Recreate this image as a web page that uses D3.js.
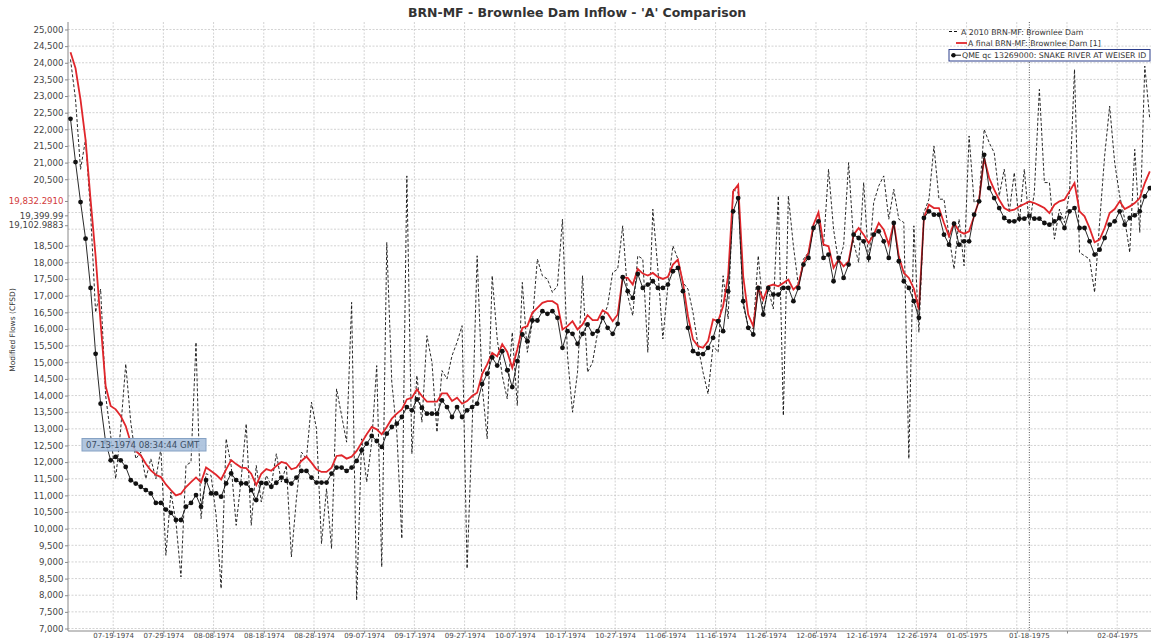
<!DOCTYPE html>
<html><head><meta charset="utf-8">
<script src="https://cdn.jsdelivr.net/npm/d3@7"></script>
<style>
html,body{margin:0;padding:0;background:#fff;overflow:hidden}
svg{display:block;font-family:"DejaVu Sans",sans-serif}
</style></head><body>
<svg id="chart" width="1151" height="640"></svg>
<script>
const title = "BRN-MF - Brownlee Dam Inflow - 'A' Comparison";
const yAxisTitle = "Modified Flows (CFSD)";
const seriesNames = ["A 2010 BRN-MF: Brownlee Dam", "A final BRN-MF: Brownlee Dam [1]", "QME qc 13269000: SNAKE RIVER AT WEISER ID"];
const firstDay = "1974-07-10T12:00:00Z";   // daily values from this day on

const a2010 = [
24100,22900,20800,21700,19500,16500,17200,14000,12800,11500,13000,14950,
13200,12100,12300,11500,12100,11500,12400,9200,11100,10200,8550,11900,
12000,15600,10300,11650,11600,10400,8200,12700,11900,10100,11500,13150,
10100,11900,10800,11600,11300,12250,11400,11900,9150,10900,12300,12100,
13800,13000,9550,11200,9400,14200,13400,12600,16800,7850,12700,11400,
12600,14900,8850,18600,14400,12900,9700,20600,12250,14600,13200,15800,
15000,12900,14750,14500,15200,15600,16100,8800,13000,18200,14300,12700,
17600,15700,14600,13900,15900,13700,17400,15300,16200,18100,17600,17500,
17100,17300,19300,15200,13500,14700,17600,14700,15000,15900,16300,16700,
17700,17800,19100,17000,16400,18200,18100,15300,19600,17800,15700,17300,
18500,18100,17400,17200,16500,15500,14700,14050,15500,15300,17600,16300,
20200,20100,16700,16100,16000,18200,16500,17200,16600,20000,13400,20000,
18500,17300,18100,18300,19000,19300,18500,20800,19000,18000,18500,21000,
18600,18000,20400,18000,19800,20300,20600,19300,20200,19300,19200,12100,
19100,15900,19500,19900,21500,19900,19900,18800,17800,19300,17900,21800,
19800,19900,22000,21600,21300,20000,20800,19500,20700,19200,20800,19102.9883,
20100,23200,20400,20400,18700,19600,19200,20100,23800,18300,18200,18100,
17100,19200,21200,22700,21000,20000,19300,18300,21400,18900,23900,22300];

const aFinal = [
24315,23835,22885,21685,19885,18185,16185,14285,13685,13585,13385,13085,
12585,12335,12200,11950,11750,11620,11550,11330,11160,11000,11050,11250,
11400,11540,11390,11840,11730,11620,11480,11780,12060,11940,11835,11820,
11650,11310,11650,11790,11740,11885,12005,11965,11785,11835,12035,12165,
11985,11785,11705,11705,11835,12185,12205,12105,12165,12335,12585,12835,
13055,12985,12835,13055,13305,13455,13585,13885,13935,14185,13985,13815,
13815,13815,14065,14065,13835,13935,13755,13835,13985,14085,14645,14935,
15285,15175,15545,15310,14835,15385,16035,16085,16485,16635,16785,16835,
16835,16735,15985,16085,16235,15985,16135,16415,16265,16265,16565,16465,
16235,16435,17555,17535,17335,17805,17665,17605,17685,17565,17505,17565,
17935,18085,17385,16385,15685,15485,15435,15635,16285,16235,16685,17585,
20135,20335,17585,16435,16085,17235,16885,17285,17335,17285,17385,17485,
17185,17335,17985,18285,19135,19505,18535,18485,17835,18085,17885,18035,
18835,19035,18835,18585,18835,19185,18985,18535,19185,18185,17685,17535,
17210,16585,19335,19735,19635,19635,19185,18785,19185,18935,18865,18935,
19385,19885,21135,20535,20185,19885,19635,19555,19585,19685,19755,19832.291,
19785,19715,19635,19485,19735,19835,19885,20135,20385,19535,19385,19035,
18605,18685,19035,19485,19605,19835,19605,19685,19785,19935,20385,20735];

const qme = [
22315,21015,19815,18715,17235,15255,13755,12600,12055,12155,12055,11855,
11455,11355,11260,11160,11060,10775,10775,10575,10475,10260,10260,10660,
10775,11010,10660,11460,11060,11060,10960,11360,11660,11460,11360,11360,
11160,10860,11375,11360,11260,11380,11535,11435,11355,11535,11735,11735,
11535,11385,11385,11385,11655,11835,11835,11735,11835,12035,12355,12555,
12785,12635,12455,12855,13055,13155,13355,13655,13555,13885,13635,13455,
13455,13455,13855,13655,13355,13655,13355,13555,13655,13755,14345,14655,
15145,14900,15335,14760,14255,15035,15835,15635,16255,16255,16535,16455,
16535,16335,15435,15935,15855,15555,15855,16135,15855,15935,16335,16035,
15855,16155,17555,17135,16935,17655,17235,17335,17435,17235,17235,17335,
17735,17835,17135,16035,15335,15255,15245,15435,15735,16235,15935,17135,
19535,19935,16835,16035,15835,17235,16435,17235,17035,17035,17235,17235,
16835,17235,17935,18135,19035,19235,18135,18235,17435,18135,17535,17935,
18835,18735,18635,18135,18835,18935,18635,18135,19185,18035,17435,17235,
16835,16335,19335,19535,19435,19435,18835,18535,19165,18535,18635,18635,
19435,19835,21235,20235,19935,19635,19335,19235,19235,19315,19315,19399.99,
19315,19315,19185,19135,19235,19335,19035,19535,19635,19035,19035,18635,
18235,18385,18735,19135,19235,19535,19135,19335,19415,19535,19985,20235];

const xTickDates = ["07-19-1974","07-29-1974","08-08-1974","08-18-1974","08-28-1974","09-07-1974",
"09-17-1974","09-27-1974","10-07-1974","10-17-1974","10-27-1974","11-06-1974","11-16-1974",
"11-26-1974","12-06-1974","12-16-1974","12-26-1974","01-05-1975","01-15-1975","01-25-1975","02-04-1975"];
const yTicks = [7000,7500,8000,8500,9000,9500,10000,10500,11000,11500,12000,12500,13000,13500,
14000,14500,15000,15500,16000,16500,17000,17500,18000,18500,19000,19500,20000,20500,21000,
21500,22000,22500,23000,23500,24000,24500,25000];
const xDomain = ["1974-07-10T00:00:00Z", "1975-02-12T00:00:00Z"];
const yDomain = [6925, 25225];
const crosshairIndex = 191;
const crosshairDateLabel = "01-18-1975";
const crosshairValueLabels = ["19,102.9883", "19,832.2910", "19,399.99"];
const tooltipText = "07-13-1974 08:34:44 GMT";

const svg = d3.select("#chart");
const L = 68, T = 22, B = 631;
const dayPx = 5.02;
const start = new Date(xDomain[0]), end = new Date(xDomain[1]);
const nDays = (end - start) / 864e5;
const x = d3.scaleUtc().domain([start, end]).range([L, L + nDays * dayPx]);
const y = d3.scaleLinear().domain(yDomain).range([B, T]);
const d0 = new Date(firstDay);
const dates = a2010.map((_, i) => d3.utcDay.offset(d0, i));
const parseMDY = d3.utcParse("%m-%d-%Y");
const xTicks = xTickDates.map(parseMDY);
const W = 1151;

// clip
svg.append("defs").append("clipPath").attr("id", "plot")
  .append("rect").attr("x", L).attr("y", T).attr("width", 1200).attr("height", B - T);

// gridlines
const grid = svg.append("g").attr("stroke", "#c8c8c8").attr("stroke-width", 0.8).attr("stroke-dasharray", "2,1.5");
grid.selectAll("line.h").data(yTicks).join("line").attr("class", "h")
  .attr("x1", L).attr("x2", W).attr("y1", d => y(d)).attr("y2", d => y(d));
grid.selectAll("line.v").data(xTicks).join("line").attr("class", "v")
  .attr("x1", d => x(d)).attr("x2", d => x(d)).attr("y1", T).attr("y2", B);

// title
svg.append("text").attr("x", 577).attr("y", 17).attr("text-anchor", "middle")
  .attr("font-size", 12.5).attr("font-weight", "bold").attr("fill", "#333").text(title);

// y axis
const crossY = [a2010[crosshairIndex], aFinal[crosshairIndex], qme[crosshairIndex]];
const yLabeled = yTicks.filter(v => crossY.every(c => Math.abs(y(v) - y(c)) > 9));
const yAxis = d3.axisLeft(y).tickValues(yLabeled).tickSize(3).tickSizeOuter(0).tickFormat(d3.format(","));
const gy = svg.append("g").attr("transform", `translate(${L},0)`).call(yAxis);
gy.select(".domain").attr("stroke", "#888").attr("d", `M0,${T}V${B}`);
gy.selectAll(".tick line").attr("stroke", "#888");
gy.selectAll(".tick text").attr("font-size", 8.6).attr("fill", "#444").attr("font-family", "DejaVu Sans").attr("x", -4.5);
// crosshair value labels on y axis
const crossColors = ["#444", "#d23a3a", "#444"];
crossY.forEach((v, i) => {
  const yy = y(v);
  svg.append("line").attr("x1", L - 3).attr("x2", L).attr("y1", yy).attr("y2", yy).attr("stroke", "#888");
  svg.append("text").attr("x", L - 4.5).attr("y", yy).attr("dy", "0.32em").attr("text-anchor", "end")
    .attr("font-size", 8.6).attr("fill", crossColors[i]).text(crosshairValueLabels[i]);
});

// x axis
const fmt = d3.utcFormat("%m-%d-%Y");
const cx = x(dates[crosshairIndex]);
const xAxis = d3.axisBottom(x).tickValues(xTicks).tickSize(2.5).tickSizeOuter(0)
  .tickFormat(d => Math.abs(x(d) - cx) < 45 ? "" : fmt(d));
const gx = svg.append("g").attr("transform", `translate(0,${B})`).call(xAxis);
gx.select(".domain").attr("stroke", "#888").attr("d", `M${L},0H${W}`);
gx.selectAll(".tick line").attr("stroke", "#888");
gx.selectAll(".tick text").attr("font-size", 7).attr("fill", "#444").attr("font-family", "DejaVu Sans")
  .attr("y", 0).attr("dy", null).attr("transform", "translate(0,7.3)");
svg.append("text").attr("x", cx).attr("y", B + 7.3).attr("text-anchor", "middle")
  .attr("font-size", 7).attr("fill", "#444").text(crosshairDateLabel);

// y axis title
svg.append("text").attr("transform", "translate(15,330) rotate(-90)").attr("text-anchor", "middle")
  .attr("font-size", 7.5).attr("fill", "#333").text(yAxisTitle);

// series
const plot = svg.append("g").attr("clip-path", "url(#plot)");
const line = arr => d3.line().x((d, i) => x(dates[i])).y(d => y(d))(arr);
plot.append("path").attr("d", line(a2010)).attr("fill", "none").attr("stroke", "#111")
  .attr("stroke-width", 0.9).attr("stroke-dasharray", "3,2");
plot.append("path").attr("d", line(aFinal)).attr("fill", "none").attr("stroke", "#e0262b")
  .attr("stroke-width", 1.8);
plot.append("path").attr("d", line(qme)).attr("fill", "none").attr("stroke", "#111")
  .attr("stroke-width", 0.9);
plot.selectAll("circle").data(qme).join("circle")
  .attr("cx", (d, i) => x(dates[i])).attr("cy", d => y(d)).attr("r", 2.4).attr("fill", "#111");

// crosshair
svg.append("line").attr("x1", cx).attr("x2", cx).attr("y1", T).attr("y2", B)
  .attr("stroke", "#444").attr("stroke-width", 0.9).attr("stroke-dasharray", "1,1.5");

// legend
const lg = svg.append("g").attr("font-size", 7.8).attr("fill", "#333");
lg.append("rect").attr("x", 949).attr("y", 49.5).attr("width", 201).attr("height", 11.5)
  .attr("fill", "#fff").attr("stroke", "#2c3e8c").attr("stroke-width", 1);
lg.append("line").attr("x1", 949).attr("x2", 959).attr("y1", 31.5).attr("y2", 31.5)
  .attr("stroke", "#111").attr("stroke-dasharray", "3,2");
lg.append("text").attr("x", 961).attr("y", 34.5).text(seriesNames[0]);
lg.append("line").attr("x1", 956).attr("x2", 967).attr("y1", 43).attr("y2", 43)
  .attr("stroke", "#e0262b").attr("stroke-width", 1.8);
lg.append("text").attr("x", 968).attr("y", 46).text(seriesNames[1]);
lg.append("line").attr("x1", 951).attr("x2", 961).attr("y1", 55.2).attr("y2", 55.2).attr("stroke", "#111");
lg.append("circle").attr("cx", 953.5).attr("cy", 55.2).attr("r", 2.2).attr("fill", "#111");
lg.append("text").attr("x", 962).attr("y", 58.2).text(seriesNames[2]);

// tooltip
const tip = svg.append("g");
tip.append("rect").attr("x", 82).attr("y", 438.5).attr("width", 124).attr("height", 12.5)
  .attr("fill", "#a9c0db").attr("fill-opacity", 0.9).attr("stroke", "#86a2c4");
tip.append("text").attr("x", 86).attr("y", 448).attr("font-size", 8.6).attr("fill", "#3b4d63").text(tooltipText);
</script>
</body></html>
